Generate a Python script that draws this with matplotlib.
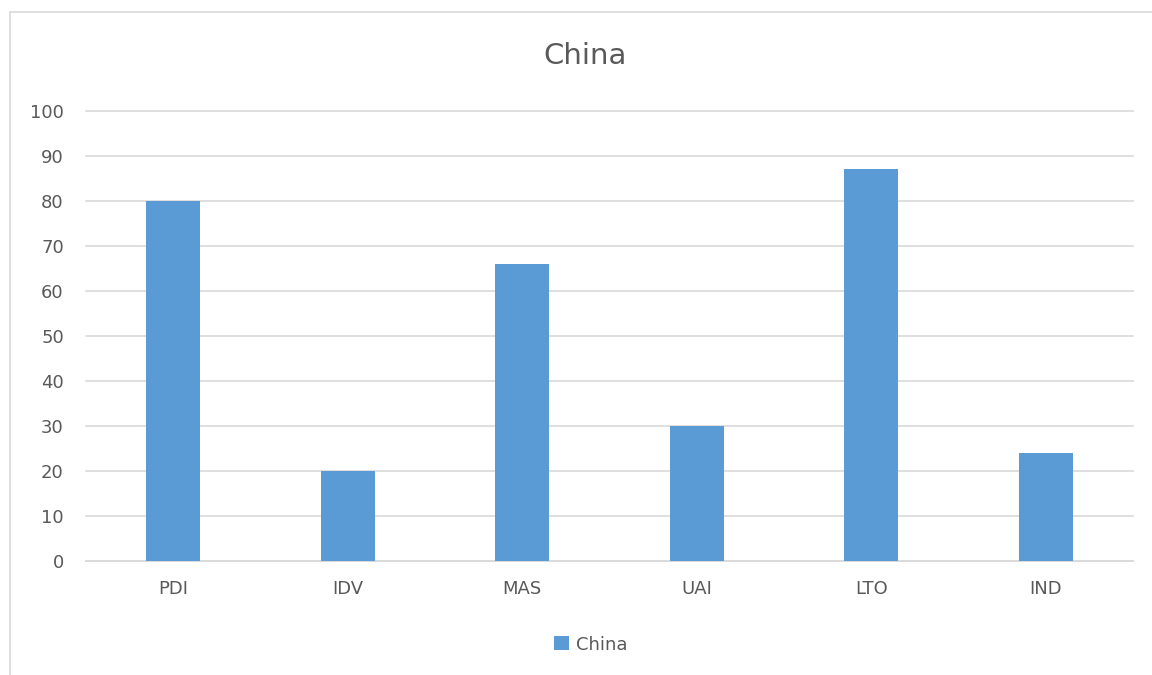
import matplotlib.pyplot as plt
from matplotlib.patches import Rectangle

categories = ["PDI", "IDV", "MAS", "UAI", "LTO", "IND"]
values = [80, 20, 66, 30, 87, 24]
yticks = [0, 10, 20, 30, 40, 50, 60, 70, 80, 90, 100]

bar_color = "#5B9BD5"
text_color = "#595959"
grid_color = "#D9D9D9"

fig = plt.figure(figsize=(11.52, 6.75), dpi=100)
ax = fig.add_axes([0.0747, 0.1689, 0.9088, 0.6667])

# cadre du graphique (bords gauche et haut visibles)
fig.patches.append(Rectangle((10 / 1152, -0.01), 1.5, 1 - 12 / 675 + 0.01,
                             transform=fig.transFigure, fill=False,
                             edgecolor=grid_color, linewidth=1.2))

x = range(len(categories))
ax.bar(x, values, width=0.31, color=bar_color, label="China", zorder=3)

ax.set_xlim(-0.5, len(categories) - 0.5)
ax.set_ylim(0, 100)
ax.set_yticks(yticks)
ax.set_xticks(list(x))
ax.set_xticklabels(categories)
ax.yaxis.grid(True, color=grid_color, linewidth=1.2, zorder=0)
for gl in ax.get_ygridlines():
    gl.set_clip_on(False)
for s in ["top", "right", "left"]:
    ax.spines[s].set_visible(False)
ax.spines["bottom"].set_color(grid_color)
ax.spines["bottom"].set_linewidth(1.2)
ax.tick_params(axis="both", length=0, labelsize=13, colors=text_color)
ax.tick_params(axis="x", pad=14)
ax.tick_params(axis="y", pad=16)

fig.text(0.508, 0.917, "China", ha="center", va="center", fontsize=21, color=text_color)

leg = fig.legend(loc="center", bbox_to_anchor=(0.513, 0.045), frameon=False,
                 fontsize=13, handlelength=0.8, handleheight=0.8, handletextpad=0.4)
for t in leg.get_texts():
    t.set_color(text_color)

fig.savefig("out.png", dpi=100)
